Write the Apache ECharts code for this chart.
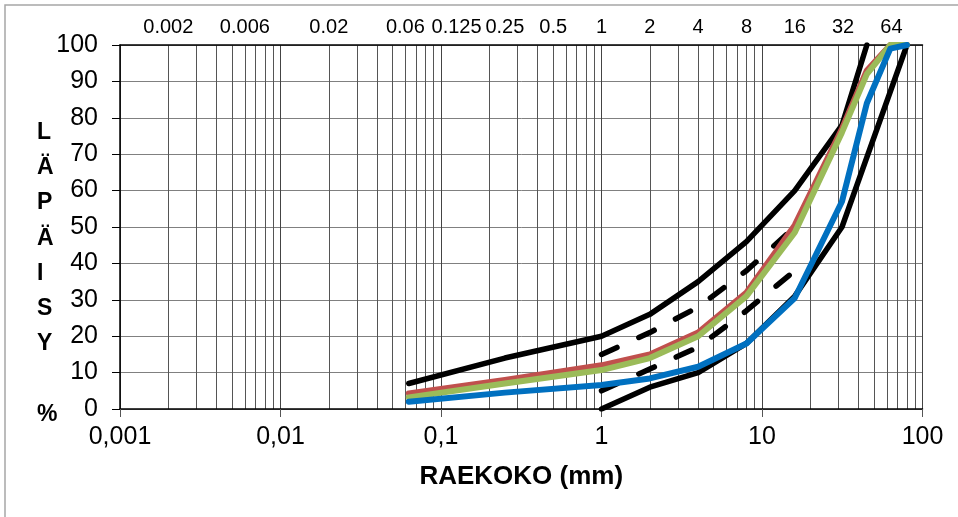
<!DOCTYPE html>
<html>
<head>
<meta charset="utf-8">
<script src="https://cdn.jsdelivr.net/npm/echarts@6/dist/echarts.min.js"></script>
<style>
  html, body { margin: 0; padding: 0; background: #fff; }
  #chart { width: 958px; height: 517px; }
</style>
</head>
<body>
<div id="chart"></div>
<script>
// Sieve sizes shown along the top edge (mm)
const sieveLabels = [0.002, 0.006, 0.02, 0.06, 0.125, 0.25, 0.5, 1, 2, 4, 8, 16, 32, 64];

// Grading envelope: outer limits (solid black)
const upperLimitSize = [0.063, 0.25, 1, 2, 4, 8, 16, 31.5, 45];
const upperLimitPass = [7, 14, 20, 26, 35, 46, 60, 78, 100];
const lowerLimitSize = [1, 2, 4, 8, 16, 31.5, 80];
const lowerLimitPass = [0, 6, 10, 18, 31, 50, 100];

// Inner limits (dashed black)
const innerUpperSize = [1, 2, 4, 8, 16];
const innerUpperPass = [15, 21, 28, 38, 50];
const innerLowerSize = [1, 2, 4, 8, 16];
const innerLowerPass = [5, 11, 17, 27, 38];

// Measured gradings
const redSize   = [0.063, 0.25, 1, 2, 4, 8, 16, 31.5, 45, 63, 80];
const redPass   = [4.3, 8, 12, 15, 21, 32, 50.5, 77, 93, 100, 100];
const greenSize = [0.063, 0.25, 1, 2, 4, 8, 16, 31.5, 45, 63, 80];
const greenPass = [3.2, 7, 10.7, 14, 20, 31, 48.5, 76, 92, 100, 100];
const blueSize  = [0.063, 0.25, 1, 2, 4, 8, 16, 31.5, 45, 63, 80];
const bluePass  = [2, 4.5, 6.6, 8.4, 11.6, 18, 30.5, 57, 84, 99, 100];

const FONT = '"Liberation Sans", Arial, sans-serif';

function pairs(xs, ys) {
  return xs.map((x, i) => [x, ys[i]]);
}

function curve(name, xs, ys, color, width, dash) {
  return {
    name: name,
    type: 'line',
    xAxisIndex: 0,
    yAxisIndex: 0,
    data: pairs(xs, ys),
    symbol: 'none',
    showSymbol: false,
    silent: true,
    lineStyle: {
      color: color,
      width: width,
      type: dash || 'solid',
      cap: 'round',
      join: 'round'
    },
    z: 3
  };
}

const chart = echarts.init(document.getElementById('chart'), null, { renderer: 'canvas' });

chart.setOption({
  animation: false,
  backgroundColor: '#ffffff',
  grid: { left: 120, top: 45, width: 802.5, height: 364, containLabel: false },
  xAxis: [
    {
      type: 'log',
      logBase: 10,
      min: 0.001,
      max: 100,
      position: 'bottom',
      name: 'RAEKOKO (mm)',
      nameLocation: 'middle',
      nameGap: 55,
      nameTextStyle: { fontFamily: FONT, fontSize: 26, fontWeight: 'bold', color: '#000' },
      axisLine: { show: true, lineStyle: { color: '#000', width: 1.5 } },
      axisTick: { show: true, length: 8, inside: false, lineStyle: { color: '#555' } },
      axisLabel: {
        fontFamily: FONT, fontSize: 25, color: '#000', margin: 16,
        formatter: v => String(+v.toPrecision(6)).replace('.', ',')
      },
      splitLine: { show: true, lineStyle: { color: '#444', width: 1 } },
      minorTick: { show: false, splitNumber: 9 },
      minorSplitLine: { show: true, lineStyle: { color: '#555', width: 1 } }
    },
    {
      type: 'log',
      logBase: 10,
      min: 0.001,
      max: 100,
      position: 'top',
      axisLine: { show: true, lineStyle: { color: '#000', width: 1.5 } },
      axisTick: { show: false },
      splitLine: { show: false },
      axisLabel: {
        show: true,
        customValues: sieveLabels,
        fontFamily: FONT, fontSize: 20, color: '#000', margin: 8,
        formatter: v => {
          let best = sieveLabels[0];
          sieveLabels.forEach(s => {
            if (Math.abs(Math.log(s) - Math.log(v)) < Math.abs(Math.log(best) - Math.log(v))) best = s;
          });
          return String(best);
        }
      }
    }
  ],
  yAxis: {
    type: 'value',
    min: 0,
    max: 100,
    interval: 10,
    axisLine: { show: true, lineStyle: { color: '#000', width: 1.5 } },
    axisTick: { show: true, length: 8, lineStyle: { color: '#000' } },
    axisLabel: { fontFamily: FONT, fontSize: 25, color: '#000', margin: 22 },
    splitLine: { show: true, lineStyle: { color: '#808080', width: 1 } }
  },
  graphic: [
    {
      type: 'rect',
      silent: true,
      shape: { x: 5, y: 5, width: 970, height: 530 },
      style: { fill: 'none', stroke: '#a6a6a6', lineWidth: 1.5 },
      z: -1
    },
    {
      type: 'text',
      silent: true,
      left: 37,
      top: 115,
      style: {
        text: 'L\nÄ\nP\nÄ\nI\nS\nY\n\n%',
        fontFamily: FONT,
        fontSize: 23,
        fontWeight: 'bold',
        lineHeight: 35.25,
        align: 'center',
        fill: '#000'
      }
    }
  ],
  series: [
    curve('Ylä-raja', upperLimitSize, upperLimitPass, '#000000', 5.5),
    curve('Ala-raja', lowerLimitSize, lowerLimitPass, '#000000', 5.5),
    curve('Sisä ylä', innerUpperSize, innerUpperPass, '#000000', 5.5, [17, 24]),
    curve('Sisä ala', innerLowerSize, innerLowerPass, '#000000', 5.5, [17, 24]),
    curve('Näyte 1', redSize, redPass, '#C0504D', 6),
    curve('Näyte 2', greenSize, greenPass, '#9BBB59', 6),
    curve('Näyte 3', blueSize, bluePass, '#0070C0', 6)
  ]
});
</script>
</body>
</html>
